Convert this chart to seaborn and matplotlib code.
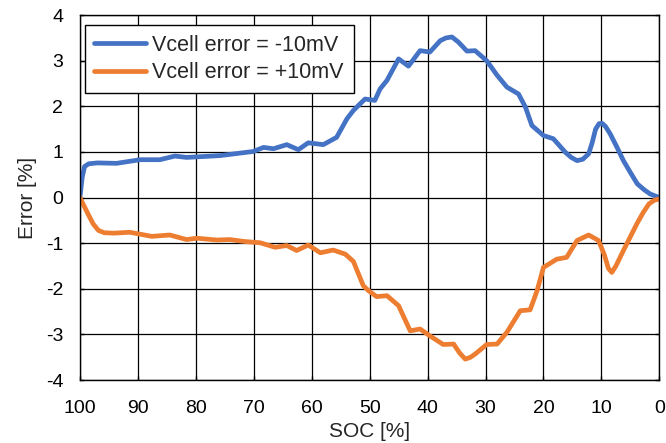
import numpy as np
import pandas as pd
import matplotlib
matplotlib.use("Agg")
import matplotlib.pyplot as plt
import seaborn as sns

# blue series: Vcell error = -10mV
soc_neg = [100, 99.6, 99.2, 98.5, 97.0, 93.7, 89.6, 86.2, 83.6, 81.6, 75.8, 70.1, 68.3, 66.6, 64.3,
           62.3, 60.6, 58.0, 55.7, 53.9, 52.8, 50.8, 49.1, 48.2, 47.0, 45.0, 43.3, 41.3,
           39.6, 37.8, 36.8, 35.8, 34.7, 33.2, 31.8, 29.8, 28.0, 26.3, 24.3, 23.1, 22.0, 20.0,
           18.3, 16.2, 15.2, 14.2, 13.2, 12.2, 11.6, 11.0, 10.4, 9.9, 9.3, 8.5, 7.3, 6.2, 5.0,
           3.8, 2.6, 1.6, 0]
err_neg = [0, 0.45, 0.68, 0.74, 0.76, 0.75, 0.83, 0.83, 0.91, 0.88, 0.92, 1.01, 1.10, 1.07, 1.16,
           1.05, 1.2, 1.16, 1.32, 1.73, 1.91, 2.16, 2.13, 2.38, 2.57, 3.04, 2.88, 3.22,
           3.19, 3.44, 3.50, 3.52, 3.41, 3.21, 3.22, 3.0, 2.68, 2.42, 2.27, 1.98, 1.58, 1.36,
           1.29, 0.99, 0.88, 0.81, 0.84, 0.96, 1.20, 1.50, 1.62, 1.63, 1.56, 1.40, 1.10, 0.81, 0.55,
           0.30, 0.17, 0.08, 0.0]

# orange series: Vcell error = +10mV
soc_pos = [100, 99.3, 98.6, 97.7, 96.8, 95.8, 94.2, 91.4, 87.6, 84.5, 81.6, 79.8, 76.4, 74.1,
           71.8, 68.9, 66.3, 64.3, 62.6, 60.6, 58.5, 56.3, 54.2, 52.8, 51.1, 50.2, 48.8, 47.0,
           45.0, 43.0, 41.3, 39.6, 37.3, 35.5, 34.5, 33.5, 32.6, 31.8, 29.8, 28.0, 26.3, 24.0,
           22.3, 21.1, 20.0, 17.7, 16.0, 14.2, 12.2, 10.5, 9.5, 8.8, 8.2, 7.5, 6.2, 3.9, 2.8,
           1.8, 0.9, 0]
err_pos = [0, -0.18, -0.36, -0.58, -0.72, -0.77, -0.78, -0.76, -0.85, -0.82, -0.92, -0.89, -0.93, -0.92,
           -0.96, -0.99, -1.09, -1.05, -1.16, -1.04, -1.21, -1.15, -1.24, -1.40, -1.93, -2.04, -2.17, -2.15,
           -2.37, -2.92, -2.88, -3.03, -3.22, -3.21, -3.40, -3.54, -3.50, -3.43, -3.22, -3.21, -2.95, -2.48,
           -2.46, -2.04, -1.53, -1.35, -1.31, -0.94, -0.82, -0.94, -1.25, -1.55, -1.64, -1.50, -1.16, -0.58, -0.33,
           -0.14, -0.06, -0.03]

labels = ["Vcell error = -10mV", "Vcell error = +10mV"]
colors = ["#4472C4", "#ED7D31"]

sns.set_style("white")
plt.rcParams['font.family'] = ['Liberation Sans', 'DejaVu Sans']
plt.rcParams['axes.unicode_minus'] = False

fig = plt.figure(figsize=(6.66, 4.43), dpi=100)
ax = fig.add_axes([0.120, 0.142, 0.870, 0.824])

df_neg = pd.DataFrame({"SOC": soc_neg, "Error": err_neg})
df_pos = pd.DataFrame({"SOC": soc_pos, "Error": err_pos})
sns.lineplot(data=df_neg, x="SOC", y="Error", sort=False, color=colors[0], lw=3.4,
             label=labels[0], ax=ax, solid_joinstyle="round", solid_capstyle="round")
sns.lineplot(data=df_pos, x="SOC", y="Error", sort=False, color=colors[1], lw=3.4,
             label=labels[1], ax=ax, solid_joinstyle="round", solid_capstyle="round")

ax.set_xlim(100, 0)
ax.set_ylim(-4, 4)
ax.set_xticks(np.arange(100, -1, -10))
ax.set_yticks(np.arange(-4, 5, 1))
ax.grid(True, color="black", lw=0.9)
ax.set_axisbelow(True)
for s in ax.spines.values():
    s.set_color("black")
    s.set_linewidth(1.0)
ax.tick_params(labelsize=14, colors="black", direction="in", length=3, width=1,
               right=True, top=False, bottom=True, left=True)
ax.tick_params(axis="x", pad=14)
ax.tick_params(axis="y", pad=12)
ax.set_xlabel("SOC [%]", fontsize=15, labelpad=4)
ax.set_ylabel("Error [%]", fontsize=15, labelpad=6)

leg = ax.legend(loc="upper left", fontsize=15.5, frameon=True, fancybox=False,
                edgecolor="black", framealpha=1, handlelength=2.4, handletextpad=0.3,
                borderpad=0.45, labelspacing=0.3, borderaxespad=0,
                bbox_to_anchor=(0.008, 0.973))
leg.get_frame().set_linewidth(1.0)

fig.savefig("out.png", dpi=100)
